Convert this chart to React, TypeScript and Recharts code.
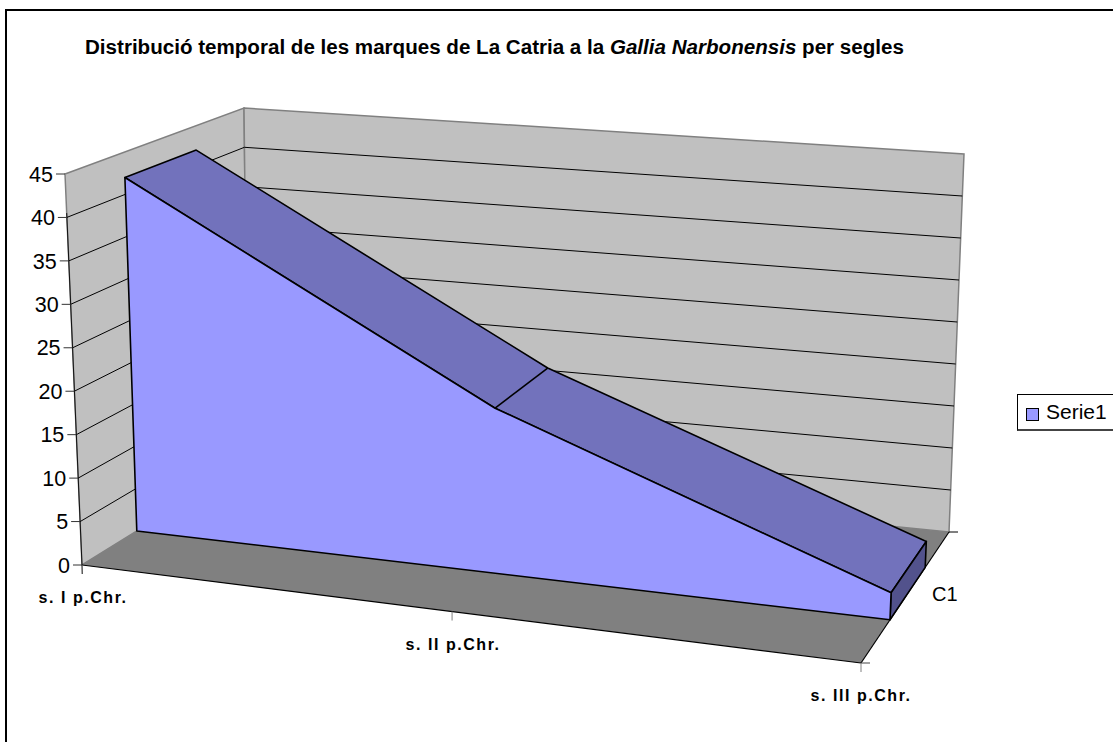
import React from "react";
import { ComposedChart, Area, XAxis, YAxis, CartesianGrid, Legend } from "recharts";

const categories = ["s. I p.Chr.", "s. II p.Chr.", "s. III p.Chr."];
const seriesValues = [42, 19, 3];
const valueTicks = [0, 5, 10, 15, 20, 25, 30, 35, 40, 45];
const seriesName = "Serie1";
const depthLabel = "C1";
const data = categories.map((c, i) => ({ category: c, [seriesName]: seriesValues[i] }));

const W = 1113, H = 742;
const L = 82, R = 861, T = 174, B = 565;
const FONT = "'Liberation Sans', Arial, sans-serif";

const FL0 = [82, 565], FL1 = [65, 174], FR0 = [861, 663], FR1 = [878, 246];
const BL0 = [248, 462], BL1 = [244, 108], BR0 = [949, 532], BR1 = [964, 154];
const Z_FRONT = 0.33, Z_BACK = 0.73, PERSP = 1.105;

const mix = (a: number[], b: number[], t: number) => [a[0] + (b[0] - a[0]) * t, a[1] + (b[1] - a[1]) * t];
const project = (u: number, v: number, z: number) => {
  const f = mix(mix(FL0, FR0, u), mix(FL1, FR1, u), v);
  const b = mix(mix(BL0, BR0, u), mix(BL1, BR1, u), v);
  return mix(f, b, z);
};
const warp = (u: number) => u / (u + PERSP * (1 - u));
const fromPx = (x: number) => warp((x - L) / (R - L));
const fromPy = (y: number) => (B - y) / (B - T);
const poly = (pts: number[][]) => pts.map((p) => `${p[0].toFixed(1)},${p[1].toFixed(1)}`).join(" ");

const Walls = () => {
  const mid = project(0, 0.9, 0);
  return (
    <g>
      <polygon points={poly([FL1, BL1, BL0, FL0])} fill="#C0C0C0" stroke="#808080" strokeWidth={1.5} />
      <polygon points={poly([BL1, BR1, BR0, BL0])} fill="#C0C0C0" stroke="#808080" strokeWidth={1.5} />
      <polygon points={poly([FL0, FR0, BR0, BL0])} fill="#808080" stroke="none" />
      <line x1={mid[0]} y1={mid[1]} x2={82.4} y2={574} stroke="#111" strokeWidth={1} />
    </g>
  );
};

const gridLine = (p: any) => {
  const v = fromPy(p.y1);
  const k = p.key ?? p.index;
  const line = v < 0.01 || v > 0.99 ? null : (
    <polyline points={poly([project(0, v, 0), project(0, v, 1), project(1, v, 1)])} fill="none" stroke="#000" strokeWidth={1} />
  );
  return <g key={k}>{p.index === 0 ? <Walls /> : null}{line}</g>;
};

const yTick = (p: any) => {
  const [x, y] = project(0, fromPy(p.y), 0);
  return (
    <g key={p.index}>
      <line x1={x - 9} y1={y} x2={x} y2={y} stroke="#333" strokeWidth={1} />
      <text x={x - 12} y={y + 7.7} textAnchor="end" fontFamily={FONT} fontSize={21.5} fill="#000">{p.payload.value}</text>
    </g>
  );
};

const xTick = (p: any) => {
  const [x, y] = project(fromPx(p.x), 0, 0);
  const cx = [83, 453, 861][p.index];
  const by = [603, 650, 701][p.index];
  return (
    <g key={p.index}>
      <line x1={x} y1={y} x2={x} y2={y + 9} stroke="#808080" strokeWidth={1} />
      <text x={cx} y={by} textAnchor="middle" fontFamily={FONT} fontSize={16} fontWeight="bold" letterSpacing={1.55} fill="#000">{p.payload.value}</text>
    </g>
  );
};

const Solid = ({ points }: { points: { x: number; y: number }[] }) => {
  const pts = points.map((q) => ({ u: fromPx(q.x), v: fromPy(q.y) }));
  const front = pts.map((q) => project(q.u, q.v, Z_FRONT));
  const back = pts.map((q) => project(q.u, q.v, Z_BACK));
  const base = [project(pts[pts.length - 1].u, 0, Z_FRONT), project(pts[0].u, 0, Z_FRONT)];
  const last = pts[pts.length - 1];
  const sideBack = project(last.u, 0, Z_BACK);
  const s = { stroke: "#000", strokeWidth: 1.6, strokeLinejoin: "round" as const };
  return (
    <g>
      <polygon points={poly([...front, ...back.slice().reverse()])} fill="#7272BC" {...s} />
      <polygon points={poly([front[front.length - 1], back[back.length - 1], sideBack, base[0]])} fill="#52528C" {...s} />
      <polygon points={poly([...front, ...base])} fill="#9999FF" {...s} />
      {front.slice(1, -1).map((f, i) => (
        <line key={i} x1={f[0]} y1={f[1]} x2={back[i + 1][0]} y2={back[i + 1][1]} {...s} />
      ))}
    </g>
  );
};

const dotRenderer = (p: any) => (p.index === 0 ? <Solid key="solid" points={p.points} /> : <g key={p.index} />);

const legendContent = (p: any) => (
  <div style={{ position: "absolute", left: 1017, top: 394, width: 110, height: 37, boxSizing: "border-box", border: "1px solid #000", borderBottom: "2px solid #444", background: "#fff" }}>
    <div style={{ position: "absolute", left: 8, top: 13, width: 11, height: 11, border: "1.5px solid #000", background: "#9999FF" }} />
    <div style={{ position: "absolute", left: 28, top: 1, fontFamily: FONT, fontSize: 21, lineHeight: "32px", color: "#000" }}>{p.payload?.[0]?.value ?? seriesName}</div>
  </div>
);

export default function App() {
  return (
    <div style={{ position: "absolute", left: 0, top: 0, width: W, height: H, overflow: "hidden", background: "#fff" }}>
      <div style={{ position: "absolute", left: 5, top: 9, width: W + 20, height: H + 20, boxSizing: "border-box", border: "2px solid #000" }} />
      <ComposedChart width={W} height={H} data={data} margin={{ top: T, bottom: H - B - 30, left: L - 60, right: W - R }} style={{ position: "absolute", left: 0, top: 0 }}>
        <CartesianGrid horizontal={gridLine} vertical={false} />
        <XAxis dataKey="category" scale="point" height={30} axisLine={false} tickLine={false} tick={xTick} interval={0} />
        <YAxis domain={[0, 45]} ticks={valueTicks} width={60} axisLine={false} tickLine={false} tick={yTick} interval={0} />
        <Area dataKey={seriesName} name={seriesName} stroke="none" fill="none" dot={dotRenderer} activeDot={false} isAnimationActive={false} />
        <Legend layout="horizontal" verticalAlign="middle" align="center" content={legendContent} wrapperStyle={{ position: "absolute", left: 0, top: 0, width: 0, height: 0 }} />
        <text x={85} y={53.5} fontFamily={FONT} fontSize={20.58} fontWeight="bold" fill="#000">
          Distribució temporal de les marques de La Catria a la <tspan fontStyle="italic">Gallia Narbonensis</tspan> per segles
        </text>
        <text x={932} y={601} fontFamily={FONT} fontSize={20} fill="#000">{depthLabel}</text>
        <line x1={FR0[0]} y1={FR0[1]} x2={BR0[0]} y2={BR0[1]} stroke="#000" strokeWidth={1.2} />
        <line x1={FR0[0]} y1={FR0[1]} x2={FL0[0]} y2={FL0[1]} stroke="#000" strokeWidth={1.2} />
        <line x1={FR0[0]} y1={FR0[1]} x2={FR0[0] + 9} y2={FR0[1]} stroke="#444" strokeWidth={1} />
        <line x1={BR0[0]} y1={BR0[1]} x2={BR0[0] + 9} y2={BR0[1]} stroke="#000" strokeWidth={1} />
      </ComposedChart>
    </div>
  );
}
